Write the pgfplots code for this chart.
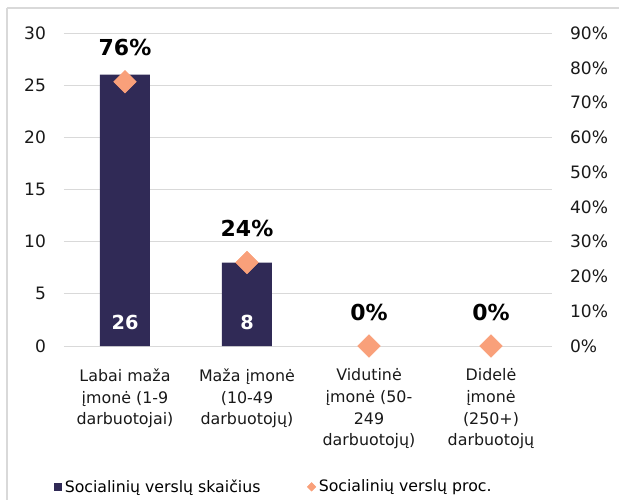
\documentclass[border=0pt]{standalone}
\usepackage{pgfplots}
\pgfplotsset{compat=1.18}
\usepackage{fontspec}
\setmainfont{DejaVu Sans}
\definecolor{navy}{HTML}{302A56}
\definecolor{salmon}{HTML}{F9A07A}
\definecolor{gridc}{HTML}{D9D9D9}
\begin{document}
\begin{tikzpicture}[x=0.75pt,y=0.75pt]
\useasboundingbox (-64,-154) rectangle (555,346);
\draw[gridc, line width=1.5] (-57,338) -- (560,338);
\draw[gridc, line width=1.5] (-57,338) -- (-57,-160);
\pgfplotsset{
  every axis/.style={
    at={(0,0)}, anchor=south west,
    scale only axis, width=366pt, height=234.75pt,
    xmin=-0.5, xmax=3.5,
    axis line style={draw=none},
    major tick length=0pt,
    /pgf/number format/assume math mode=true,
    tick label style={font=\fontsize{12.8}{15}\selectfont, color=black!90},
  }
}
\begin{axis}[
  ymin=0, ymax=30, ytick={0,5,...,30},
  ymajorgrids, grid style={gridc, line width=0.75pt},
  yticklabel style={xshift=-10pt},
  xtick={0,1,2,3},
  xticklabels={Labai maža\\įmonė (1-9\\darbuotojai),Maža įmonė\\(10-49\\darbuotojų),Vidutinė\\įmonė (50-\\249\\darbuotojų),Didelė\\įmonė\\(250+)\\darbuotojų},
  xticklabel style={align=center, font=\fontsize{11.9}{16.3}\selectfont, yshift=-13.5pt},
  legend style={at={(-0.03,-0.45)}, anchor=west, draw=none, fill=none,
    legend columns=2, font=\fontsize{11.8}{14}\selectfont,
    /tikz/every even column/.append style={column sep=33pt}},
]
\addplot[ybar, bar width=37.5pt, fill=navy, draw=none,
  legend image code/.code={\fill[navy] (0pt,-3.2pt) rectangle (6.4pt,3.2pt);}]
  coordinates {(0,26) (1,8)};
\addlegendentry{Socialinių verslų skaičius}
\addlegendimage{legend image code/.code={\fill[salmon] (3pt,-3.2pt) -- (6.2pt,0pt) -- (3pt,3.2pt) -- (-0.2pt,0pt) -- cycle;}}
\addlegendentry{Socialinių verslų proc.}
\addplot[draw=none, mark=none, nodes near coords, point meta=explicit,
  every node near coord/.style={anchor=center, yshift=18pt, text=white, font=\bfseries\fontsize{14.5}{16}\selectfont}]
  coordinates {(0,0) [26] (1,0) [8]};
\end{axis}
\begin{axis}[
  ymin=0, ymax=90, ytick={0,10,...,90},
  axis y line*=right, axis x line=none,
  yticklabel={\pgfmathprintnumber{\tick}\%},
  yticklabel style={xshift=10pt},
  xtick=\empty,
]
\addplot[only marks, mark=square*, mark size=6pt, mark options={rotate=45, fill=salmon, draw=salmon},
  nodes near coords={\pgfmathprintnumber{\pgfplotspointmeta}\%}, point meta=explicit,
  every node near coord/.style={anchor=center, yshift=25.5pt, text=black, font=\bfseries\fontsize{16.5}{18}\selectfont}]
  coordinates {(0,76) [76] (1,24) [24] (2,0) [0] (3,0) [0]};
\end{axis}
\end{tikzpicture}
\end{document}
